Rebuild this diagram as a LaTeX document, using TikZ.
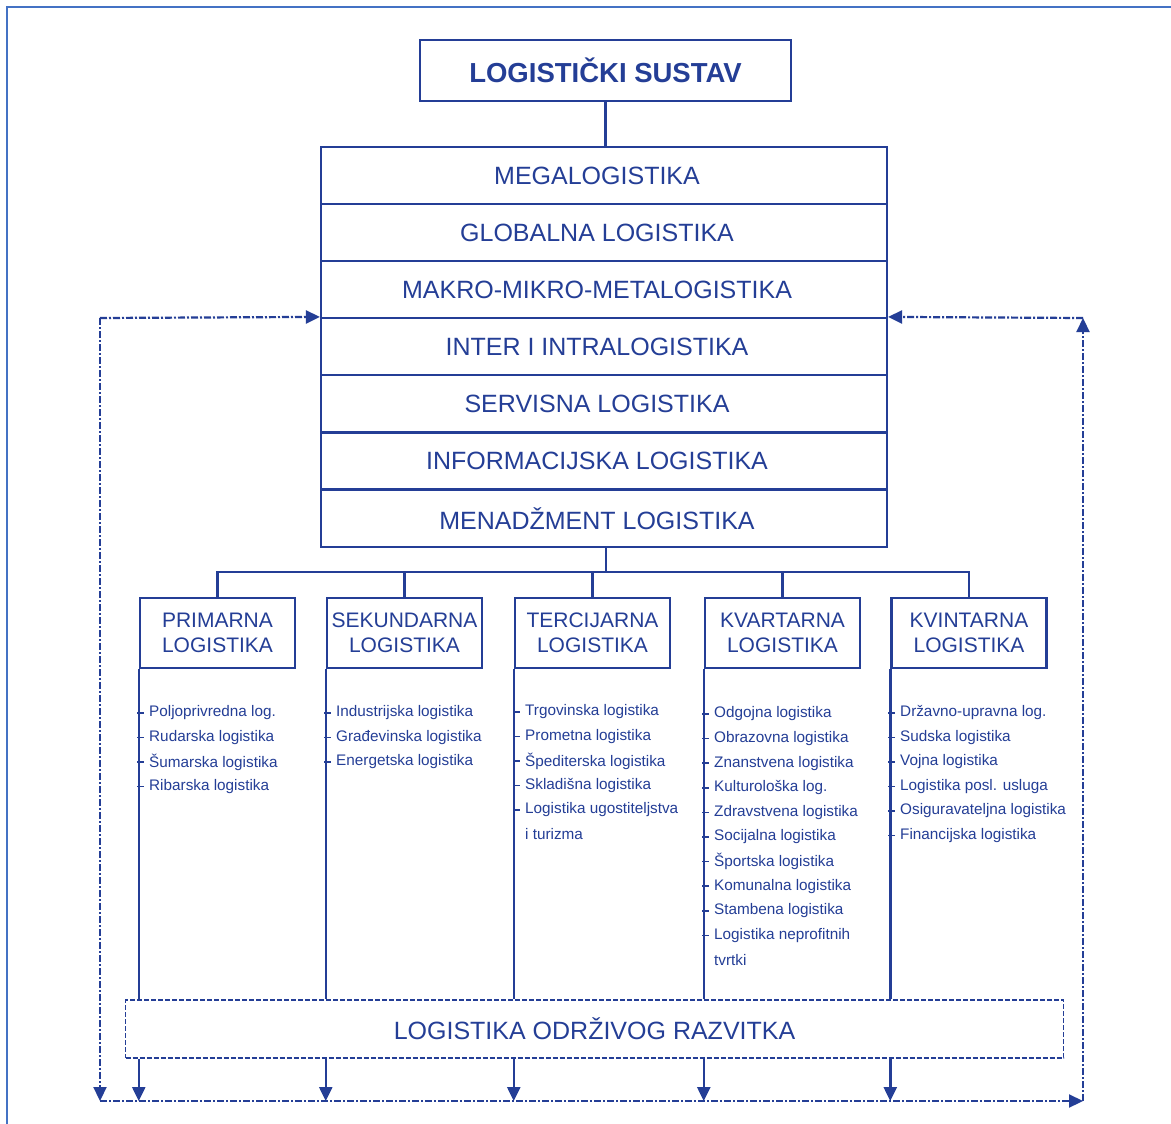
\documentclass[tikz,border=0pt]{standalone}
\usepackage{fontspec}
\setmainfont{Liberation Sans}
\usetikzlibrary{arrows.meta}
\definecolor{dblue}{RGB}{36,62,150}
\definecolor{frameblue}{RGB}{68,114,196}
\tikzset{
  line/.style={draw=dblue, line width=2.5},
  rowbox/.style={draw=dblue, line width=2.2, minimum width=566, minimum height=57, inner sep=0, text=dblue, font=\fontsize{25}{29}\selectfont, execute at begin node=\hspace*{-14pt}},
  titlebox/.style={draw=dblue, line width=2.5, minimum width=371, minimum height=61, inner sep=0, text=dblue, font=\fontsize{27.5}{31}\selectfont\bfseries},
  catbox/.style={draw=dblue, line width=2.5, minimum width=155, minimum height=70, inner sep=0, align=center, text=dblue, font=\fontsize{21}{25}\selectfont},
  dbox/.style={draw=dblue, line width=1.8, dash pattern=on 5pt off 2pt, minimum width=938, minimum height=58, inner sep=0, text=dblue, font=\fontsize{25}{29}\selectfont},
  itm/.style={anchor=west, inner sep=0, text=dblue, font=\fontsize{15.3}{18}\selectfont},
  tickmark/.style={draw=dblue, line width=1.5},
  fb/.style={draw=dblue, line width=2.2, dash pattern=on 7pt off 2pt on 2pt off 2pt},
  tip/.style={-{Triangle[width=13pt,length=14pt]}}
}
\begin{document}
\begin{tikzpicture}[x=1pt,y=-1pt]
\useasboundingbox (0,0) rectangle (1171,1124);
\fill[white] (0,0) rectangle (1171,1124);
\draw[frameblue, line width=2.5] (7,1124) -- (7,7) -- (1171,7);

% title
\node[titlebox] (top) at (605.5,70.5) {LOGISTIČKI SUSTAV};

% big box rows
\node[rowbox] (r1) at (604,175.5) {MEGALOGISTIKA};
\node[rowbox] (r2) at (604,232.5) {GLOBALNA LOGISTIKA};
\node[rowbox] (r3) at (604,289.5) {MAKRO-MIKRO-METALOGISTIKA};
\node[rowbox] (r4) at (604,346.5) {INTER I INTRALOGISTIKA};
\node[rowbox] (r5) at (604,403.5) {SERVISNA LOGISTIKA};
\node[rowbox] (r6) at (604,461) {INFORMACIJSKA LOGISTIKA};
\node[rowbox] (r7) at (604,518.5) {MENADŽMENT LOGISTIKA};
\draw[line] (top.south) -- (top.south |- r1.north);

% categories
\node[catbox] (c1) at (217.5,633) {PRIMARNA\\LOGISTIKA};
\node[catbox] (c2) at (404.5,633) {SEKUNDARNA\\LOGISTIKA};
\node[catbox] (c3) at (592.5,633) {TERCIJARNA\\LOGISTIKA};
\node[catbox] (c4) at (782.5,633) {KVARTARNA\\LOGISTIKA};
\node[catbox] (c5) at (969,633) {KVINTARNA\\LOGISTIKA};

\coordinate (hb) at (606,572);
\draw[line] (r7.south -| hb) -- (hb);
\draw[line] (c1.north) -- (c1.north |- hb) -- (c5.north |- hb) -- (c5.north);
\draw[line] (c2.north |- hb) -- (c2.north);
\draw[line] (c3.north |- hb) -- (c3.north);
\draw[line] (c4.north |- hb) -- (c4.north);

% sustainable development box
\node[dbox] (ls) at (594.5,1029) {LOGISTIKA ODRŽIVOG RAZVITKA};

% feedback loop
\coordinate (ftl) at (100,318);
\coordinate (fbl) at (100,1101);
\coordinate (fbr) at (1083,1101);
\coordinate (ftr) at (1083,318);
\draw[fb,tip] (ftl) -- (r4.north west);
\draw[fb,tip] (ftl) -- (fbl);
\draw[fb,tip] (fbl) -- (fbr);
\draw[fb,tip] (fbr) -- (ftr);
\draw[fb,tip] (ftr) -- (r4.north east);

% vertical lines from categories
\foreach \c in {c1,c2,c3,c4,c5} {
  \draw[line] (\c.south west) -- (\c.south west |- ls.north);
  \draw[line,tip] (\c.south west |- ls.south) -- (\c.south west |- fbl);
}

% item lists
\foreach \t [count=\i] in {Poljoprivredna log.,Rudarska logistika,Šumarska logistika,Ribarska logistika} {
  \node[itm] (pa\i) at (149,713+24.5*\i-24.5) {\t};
  \draw[tickmark] (pa\i.west) ++(-12,0) -- ++(7,0);
}
\foreach \t [count=\i] in {Industrijska logistika,Građevinska logistika,Energetska logistika} {
  \node[itm] (sa\i) at (336,713+24.5*\i-24.5) {\t};
  \draw[tickmark] (sa\i.west) ++(-12,0) -- ++(7,0);
}
\foreach \t [count=\i] in {Trgovinska logistika,Prometna logistika,Špediterska logistika,Skladišna logistika,Logistika ugostiteljstva} {
  \node[itm] (ta\i) at (525,712+24.5*\i-24.5) {\t};
  \draw[tickmark] (ta\i.west) ++(-12,0) -- ++(7,0);
}
\node[itm] (ta6) at (525,834.5) {i turizma};
\foreach \t [count=\i] in {Odgojna logistika,Obrazovna logistika,Znanstvena logistika,Kulturološka log.,Zdravstvena logistika,Socijalna logistika,Športska logistika,Komunalna logistika,Stambena logistika,Logistika neprofitnih} {
  \node[itm] (ka\i) at (714,714+24.6*\i-24.6) {\t};
  \draw[tickmark] (ka\i.west) ++(-12,0) -- ++(7,0);
}
\node[itm] (ka11) at (714,960) {tvrtki};
\foreach \t [count=\i] in {Državno-upravna log.,Sudska logistika,Vojna logistika,Logistika posl. usluga,Osiguravateljna logistika,Financijska logistika} {
  \node[itm] (va\i) at (900,713+24.5*\i-24.5) {\t};
  \draw[tickmark] (va\i.west) ++(-12,0) -- ++(7,0);
}
\end{tikzpicture}
\end{document}
